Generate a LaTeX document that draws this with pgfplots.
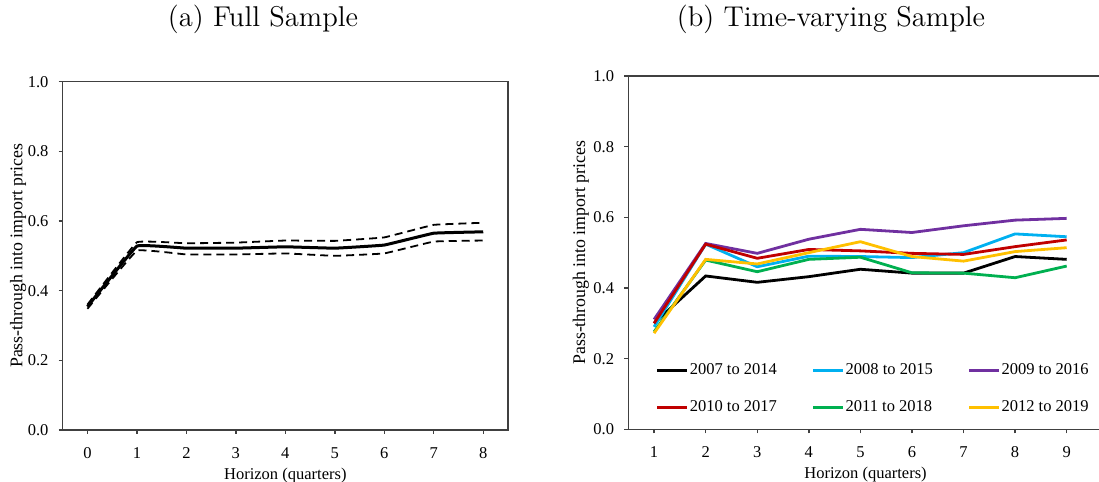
\documentclass[border=0pt]{standalone}
\usepackage{fontspec}
\usepackage{pgfplots}
\pgfplotsset{compat=1.18}
\newfontfamily\tnr{Liberation Serif}
\newcommand\chartfont{\tnr\fontsize{8.25}{9.9}\selectfont}
\definecolor{xlcyan}{RGB}{0,176,240}
\definecolor{xlpurple}{RGB}{112,48,160}
\definecolor{xlred}{RGB}{192,0,0}
\definecolor{xlgreen}{RGB}{0,176,80}
\definecolor{xlyellow}{RGB}{255,192,0}

\pgfplotsset{
  panel/.style={
    scale only axis,
    axis line style={black!75, line width=0.7pt},
    tick style={black!75, line width=0.7pt},
    tick align=outside, tick pos=left, major tick length=2pt,
    ymin=0, ymax=1, ytick={0,0.2,0.4,0.6,0.8,1},
    /pgf/number format/assume math mode=true,
    yticklabel style={/pgf/number format/fixed, /pgf/number format/fixed zerofill,
      /pgf/number format/precision=1, xshift=-1.6pt},
    xticklabel style={yshift=-3.2pt},
    tick label style={font=\chartfont},
    ylabel={Pass-through into import prices},
    xlabel={Horizon (quarters)},
    every axis y label/.style={at={(axis description cs:-0.1,0.5)}, rotate=90, anchor=center,
      font=\tnr\fontsize{8.9}{10.5}\selectfont},
    every axis x label/.style={at={(axis description cs:0.5,0)}, yshift=-24.6pt, anchor=base, font=\chartfont},
  }
}

\begin{document}
\begin{tikzpicture}
\useasboundingbox (0,0) rectangle (549.5pt,241pt);

\node[anchor=base, font=\fontsize{14.3}{17}\selectfont] at (131.5pt,227.6pt) {(a) Full Sample};
\node[anchor=base, font=\fontsize{14.3}{17}\selectfont] at (415.5pt,227.6pt) {(b) Time-varying Sample};

% (a) full sample with bands
\begin{axis}[panel,
  at={(31.35pt,26pt)}, anchor=south west,
  width=222.65pt, height=174.15pt,
  xmin=-0.5, xmax=8.5, xtick={0,1,...,8},
]
\addplot[black, line width=0.9pt, dash pattern=on 4pt off 2.5pt, smooth, tension=0.12]
  coordinates {(0,0.360) (1,0.539) (2,0.536) (3,0.538) (4,0.544) (5,0.543) (6,0.553) (7,0.589) (8,0.595)};
\addplot[black, line width=0.9pt, dash pattern=on 4pt off 2.5pt, smooth, tension=0.12]
  coordinates {(0,0.348) (1,0.515) (2,0.504) (3,0.504) (4,0.507) (5,0.500) (6,0.507) (7,0.541) (8,0.544)};
\addplot[black, line width=1.5pt, smooth, tension=0.12]
  coordinates {(0,0.354) (1,0.528) (2,0.522) (3,0.522) (4,0.526) (5,0.522) (6,0.531) (7,0.565) (8,0.569)};
\end{axis}

% (b) rolling windows
\begin{axis}[panel,
  at={(314.15pt,26.35pt)}, anchor=south west,
  width=237.25pt, height=176.65pt,
  xmin=0.5, xmax=9.7, xtick={1,2,...,9},
  every axis plot/.append style={line width=1.4pt},
  legend columns=3,
  legend image code/.code={\draw[#1] (0pt,0pt) -- (15pt,0pt);},
  legend style={font=\chartfont, draw=none, fill=none,
    at={(axis description cs:0.045,0.2015)}, anchor=north west,
    nodes={inner sep=0.5pt, anchor=west},
    /tikz/every even column/.append style={column sep=17pt},
    row sep=10.5pt},
]
\addplot[black] coordinates {(1,0.300) (2,0.434) (3,0.416) (4,0.432) (5,0.453) (6,0.442) (7,0.442) (8,0.489) (9,0.481)};
\addlegendentry{2007 to 2014}
\addplot[xlcyan] coordinates {(1,0.290) (2,0.524) (3,0.460) (4,0.490) (5,0.489) (6,0.486) (7,0.500) (8,0.553) (9,0.545)};
\addlegendentry{2008 to 2015}
\addplot[xlpurple] coordinates {(1,0.311) (2,0.526) (3,0.498) (4,0.538) (5,0.566) (6,0.557) (7,0.576) (8,0.592) (9,0.597)};
\addlegendentry{2009 to 2016}
\addplot[xlred] coordinates {(1,0.300) (2,0.524) (3,0.484) (4,0.509) (5,0.505) (6,0.498) (7,0.495) (8,0.517) (9,0.536)};
\addlegendentry{2010 to 2017}
\addplot[xlgreen] coordinates {(1,0.276) (2,0.479) (3,0.446) (4,0.481) (5,0.487) (6,0.443) (7,0.442) (8,0.429) (9,0.462)};
\addlegendentry{2011 to 2018}
\addplot[xlyellow] coordinates {(1,0.272) (2,0.481) (3,0.468) (4,0.500) (5,0.531) (6,0.489) (7,0.476) (8,0.503) (9,0.514)};
\addlegendentry{2012 to 2019}
\end{axis}
\end{tikzpicture}
\end{document}
